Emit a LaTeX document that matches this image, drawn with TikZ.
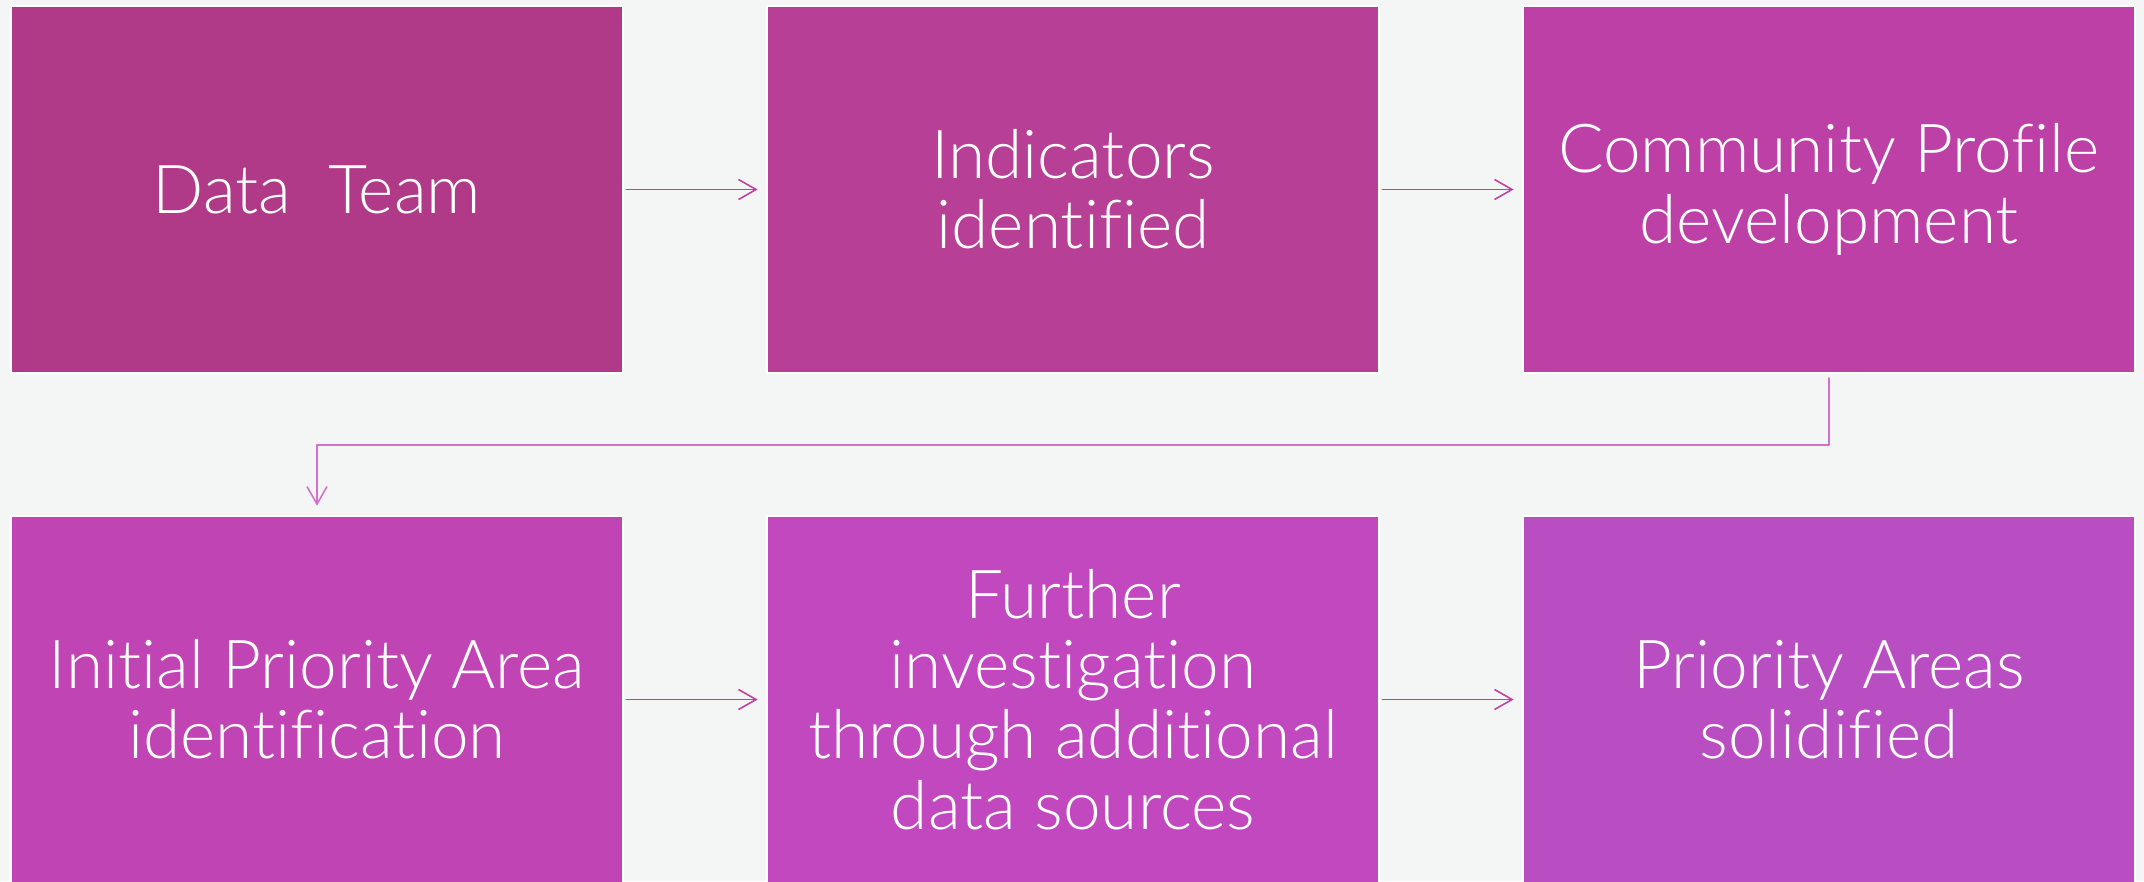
\documentclass[tikz,border=0pt]{standalone}
\usepackage{fontspec}
\setmainfont{Lato}[UprightFont=* Light, Ligatures={NoCommon}]
\usepackage{xcolor}
\usetikzlibrary{arrows.meta}
\definecolor{paper}{RGB}{244,246,245}
\definecolor{stageA}{RGB}{176,58,135}
\definecolor{stageB}{RGB}{183,63,150}
\definecolor{stageC}{RGB}{189,64,167}
\definecolor{stageD}{RGB}{192,68,180}
\definecolor{stageE}{RGB}{194,72,192}
\definecolor{stageF}{RGB}{185,78,194}
\definecolor{flowline}{RGB}{192,64,160}
\definecolor{bendline}{RGB}{212,112,204}
\tikzset{
    stage/.style = {draw=white, line width=0.6pt, text=white, align=center,
        minimum width=6.12cm, minimum height=3.67cm, inner sep=0pt,
        font=\fontsize{19.2}{20}\selectfont},
    flow/.style = {-{Straight Barb[length=5pt,width=5.7pt]}, line width=0.45pt, flowline}
}

\begin{document}
\begin{tikzpicture}[x=0.01cm,y=-0.01cm,line cap=round,line join=round]
    \useasboundingbox (0,0) rectangle (2144,881);
    \clip (0,0) rectangle (2144,881);
    \fill[paper] (0,0) rectangle (2144,881);

    % top row
    \node[stage, fill=stageA] (data) at (317,189.5) {Data\ \ Team};
    \node[stage, fill=stageB] (ind) at (1073,189.5) {Indicators\\identified};
    \node[stage, fill=stageC] (prof) at (1829,189.5) {Community Profile\\development};
    % bottom row
    \node[stage, fill=stageD] (init) at (317,699.5) {Initial Priority Area\\identification};
    \node[stage, fill=stageE] (inv) at (1073,699.5) {Further\\investigation\\through additional\\data sources};
    \node[stage, fill=stageF] (prio) at (1829,699.5) {Priority Areas\\solidified};

    \draw [flow, shorten <=0.6pt, shorten >=2.3pt] (data) -- (ind);
    \draw [flow, shorten <=0.6pt, shorten >=2.3pt] (ind) -- (prof);
    \draw [flow, bendline, shorten <=1.1pt, shorten >=2.6pt] (prof.south) -- ++(0,71) -| (init.north);
    \draw [flow, shorten <=0.6pt, shorten >=2.3pt] (init) -- (inv);
    \draw [flow, shorten <=0.6pt, shorten >=2.3pt] (inv) -- (prio);
\end{tikzpicture}
\end{document}
